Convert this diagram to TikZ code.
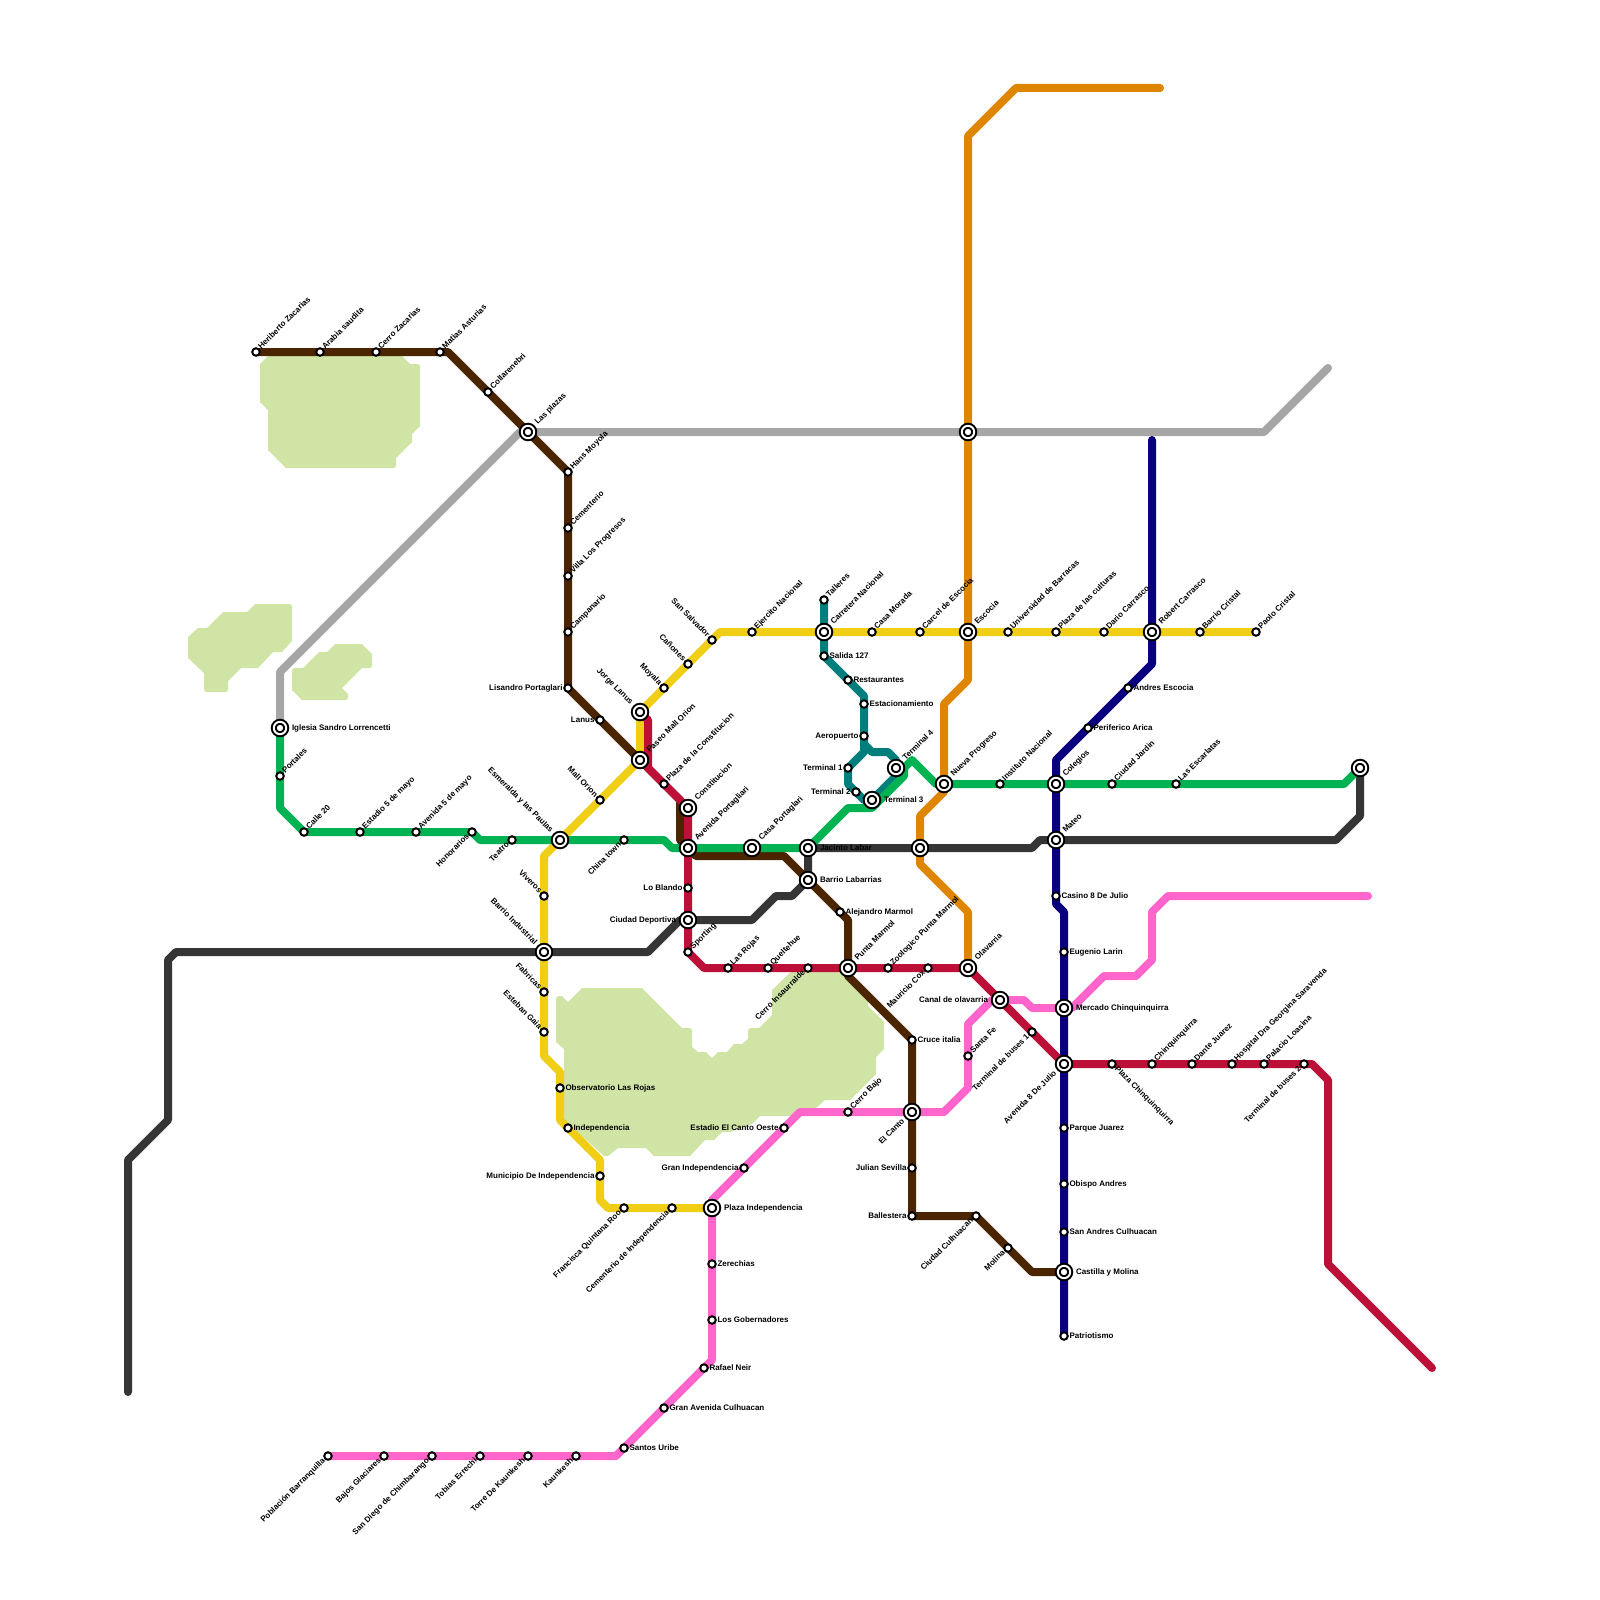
\documentclass[tikz,border=0pt]{standalone}
\usepackage{fontspec}
\setmainfont{Liberation Sans}
\usetikzlibrary{backgrounds}
\definecolor{ParkClr}{HTML}{D0E5A5}
\definecolor{BrownClr}{HTML}{4B2400}
\definecolor{GreyClr}{HTML}{A6A6A6}
\definecolor{OrangeClr}{HTML}{DF8600}
\definecolor{YellowClr}{HTML}{F0CE15}
\definecolor{GreenClr}{HTML}{00B251}
\definecolor{CrimsonClr}{HTML}{BD1038}
\definecolor{PinkClr}{HTML}{FF66CC}
\definecolor{NavyClr}{HTML}{0A007E}
\definecolor{TealClr}{HTML}{007E7E}
\definecolor{DarkClr}{HTML}{353535}
\tikzset{
  halt/.style={circle,draw=black,fill=white,line width=2pt,minimum size=7.5pt,inner sep=0pt,outer sep=0pt},
  hub/.style={circle,draw=black,fill=white,line width=2pt,double=white,double distance=2pt,minimum size=12.4pt,inner sep=0pt,outer sep=0pt},
  lbl/.style={font=\bfseries\fontsize{8}{8}\selectfont,text height=6pt,text depth=2pt,inner ysep=0pt,outer sep=0pt},
  lblNE/.style={lbl,rotate=45,anchor=west},
  lblSW/.style={lbl,rotate=45,anchor=east},
  lblNW/.style={lbl,rotate=-45,anchor=east},
  lblSE/.style={lbl,rotate=-45,anchor=west},
  lblE/.style={lbl,anchor=west},
  lblW/.style={lbl,anchor=east},
  metro/.style={line width=8pt,line cap=round,line join=round},
}
\begin{document}
\begin{tikzpicture}[x=1pt,y=-1pt]
\useasboundingbox (0,0) rectangle (1600,1600);

% plain stops
\foreach \x/\y/\n/\s/\t in {
  256/352/Heriberto/NE/Heriberto Zacarias,320/352/Arabia/NE/Arabia saudita,376/352/CerroZ/NE/Cerro Zacarias,
  440/352/Matias/NE/Matias Asturias,488/392/Collar/NE/Collarenebri,568/472/Hans/NE/Hans Moyola,
  568/528/Cementerio/NE/Cementerio,568/576/Villa/NE/Villa Los Progresos,568/632/Campanario/NE/Campanario,
  568/688/Lisandro/W/Lisandro Portaglari,600/720/Lanus/W/Lanus,840/912/Alejandro/E/Alejandro Marmol,
  912/1040/Cruce/E/Cruce italia,912/1168/Julian/W/Julian Sevilla,912/1216/Ballestera/W/Ballestera,
  976/1216/Culhuacan/SW/Ciudad Culhuacan,1008/1248/Molina/SW/Molina,
  280/776/Portales/NE/Portales,304/832/Calle/NE/Calle 20,360/832/Estadio/NE/Estadio 5 de mayo,
  416/832/Avenida/NE/Avenida 5 de mayo,472/832/Honorarios/SW/Honorarios,512/840/Teatro/SW/Teatro,
  624/840/China/SW/China town,1000/784/Instituto/NE/Instituto Nacional,1112/784/Jardin/NE/Ciudad Jardin,
  1176/784/Escarlatas/NE/Las Escarlatas,
  672/1208/CemInd/SW/Cementerio de Independencia,624/1208/Francisca/SW/Francisca Quintana Roo,
  600/1176/Municipio/W/Municipio De Independencia,568/1128/Independencia/E/Independencia,
  560/1088/Observatorio/E/Observatorio Las Rojas,544/1032/Esteban/NW/Esteban Gaia,544/992/Fabricas/NW/Fabricas,
  544/896/Viveros/NW/Viveros,600/800/MallOrion/NW/Mall Orion,664/688/Moyala/NW/Moyala,688/664/Canones/NW/Cañones,
  712/640/SanSalvador/NW/San Salvador,752/632/Ejercito/NE/Ejercito Nacional,872/632/CasaMorada/NE/Casa Morada,
  920/632/Carcel/NE/Carcel de Escocia,1008/632/Universidad/NE/Universidad de Barracas,
  1056/632/Culturas/NE/Plaza de las culturas,1104/632/Dario/NE/Dario Carrasco,1200/632/BarrioCristal/NE/Barrio Cristal,
  1256/632/Paolo/NE/Paolo Cristal,
  664/784/PlazaConst/NE/Plaza de la Constitucion,688/888/LoBlando/W/Lo Blando,688/952/Sporting/NE/Sporting,
  728/968/LasRojas/NE/Las Rojas,768/968/Queltehue/NE/Queltehue,808/968/Insaurralde/SW/Cerro Insaurralde,
  888/968/Zoologico/NE/Zoologico Punta Marmol,928/968/Mauricio/SW/Mauricio Cox,1032/1032/BusesA/SW/Terminal de buses 1,
  1112/1064/PlazaChin/SE/Plaza Chinquinquirra,1152/1064/Chinq/NE/Chinquinquirra,1192/1064/Dante/NE/Dante Juarez,
  1232/1064/Hospital/NE/Hospital Dra Georgina Saravenda,1264/1064/Palacio/NE/Palacio Loasina,
  1304/1064/BusesB/SW/Terminal de buses 2,
  328/1456/Poblacion/SW/Población Barranquilla,384/1456/Bajos/SW/Bajos Glaciares,432/1456/SanDiego/SW/San Diego de Chimbarango,
  480/1456/Tobias/SW/Tobias Errechi,528/1456/Torre/SW/Torre De Kaunkesh,576/1456/Kaunkesh/SW/Kaunkesh,
  624/1448/Santos/E/Santos Uribe,664/1408/GranAv/E/Gran Avenida Culhuacan,704/1368/Rafael/E/Rafael Neir,
  712/1320/Gobernadores/E/Los Gobernadores,712/1264/Zerechias/E/Zerechias,744/1168/GranInd/W/Gran Independencia,
  784/1128/EstCanto/W/Estadio El Canto Oeste,848/1112/CerroBajo/NE/Cerro Bajo,968/1056/SantaFe/NE/Santa Fe,
  1128/688/Andres/E/Andres Escocia,1088/728/Periferico/E/Periferico Arica,1056/896/Casino/E/Casino 8 De Julio,
  1064/952/Eugenio/E/Eugenio Larin,1064/1128/Parque/E/Parque Juarez,1064/1184/Obispo/E/Obispo Andres,
  1064/1232/SanAndres/E/San Andres Culhuacan,1064/1336/Patriotismo/E/Patriotismo,
  824/600/Talleres/NE/Talleres,824/656/Salida/E/Salida 127,848/680/Restaurantes/E/Restaurantes,
  864/704/Estacion/E/Estacionamiento,864/736/Aeropuerto/W/Aeropuerto,848/768/TermA/W/Terminal 1,856/792/TermB/W/Terminal 2}
  {\node[halt] (\n) at (\x,\y) {};
   \node[lbl\s,inner xsep=5.5pt] (\n-lbl) at (\n) {\t};}

% interchanges
\foreach \x/\y/\n/\s/\t in {
  528/432/LasPlazas/NE/Las plazas,640/760/Paseo/NE/Paseo Mall Orion,688/808/Constitucion/NE/Constitucion,
  688/848/AvPort/NE/Avenida Portagliari,808/880/Labarrias/E/Barrio Labarrias,848/968/PuntaMarmol/NE/Punta Marmol,
  912/1112/ElCanto/SW/El Canto,1064/1272/Castilla/E/Castilla y Molina,280/728/Iglesia/E/Iglesia Sandro Lorrencetti,
  560/840/Esmeralda/NW/Esmeralda y las Paulas,752/848/CasaPort/NE/Casa Portaglari,808/848/Jacinto/E/Jacinto Labar,
  872/800/TermC/E/Terminal 3,896/768/TermD/NE/Terminal 4,944/784/Nueva/NE/Nueva Progreso,1056/784/Colegios/NE/Colegios,
  1056/840/Mateo/NE/Mateo,688/920/Deportiva/W/Ciudad Deportiva,544/952/Industrial/NW/Barrio Industrial,
  712/1208/PlazaInd/E/Plaza Independencia,640/712/Jorge/NW/Jorge Lanus,824/632/Carretera/NE/Carretera Nacional,
  968/632/Escocia/NE/Escocia,1152/632/Robert/NE/Robert Carrasco,968/968/Olavarria/NE/Olavarria,
  1000/1000/Canal/W/Canal de olavarria,1064/1064/Julio/SW/Avenida 8 De Julio,1064/1008/Mercado/E/Mercado Chinquinquirra}
  {\node[hub] (\n) at (\x,\y) {};
   \node[lbl\s,inner xsep=12pt] (\n-lbl) at (\n) {\t};}

\node[hub] (GreyCross) at (968,432) {};
\node[hub] (DarkCross) at (920,848) {};
\node[hub] (LineEnd) at (1360,768) {};

% bends
\foreach \x/\y/\n in {
  448/352/Br1,680/800/Br2,680/840/Br3,696/856/Br4,784/856/Br5,848/920/Br6,848/976/Br7,912/1208/Br8,920/1216/Br9,1032/1272/Br10,
  280/672/Gr1,520/432/Gr2,1264/432/Gr3,1328/368/Gr4,
  1160/88/Or1,1016/88/Or2,968/136/Or3,968/680/Or4,944/704/Or5,944/792/Or9,920/816/Or6,920/864/Or7,968/912/Or8,
  608/1208/Ye1,600/1200/Ye2,600/1160/Ye3,560/1120/Ye4,560/1072/Ye5,544/1056/Ye6,544/856/Ye7,720/632/Ye8,
  280/808/Gn1,480/840/Gn2,664/840/Gn3,672/848/Gn4,848/808/Gn5,872/808/Gn6,904/776/Gn7,904/768/Gn8,912/760/Gn9,936/784/Gn10,1344/784/Gn11,
  1360/816/Dk1,1336/840/Dk2,1040/840/Dk3,1032/848/Dk4,792/896/Dk5,776/896/Dk6,752/920/Dk7,680/920/Dk8,648/952/Dk9,
  176/952/Dk10,168/960/Dk11,168/1120/Dk12,128/1160/Dk13,128/1392/Dk14,
  648/720/Cr1,648/768/Cr2,704/968/Cr3,1312/1064/Cr4,1328/1080/Cr5,1328/1264/Cr6,1432/1368/Cr7,
  616/1456/Pk1,712/1360/Pk2,712/1200/Pk17,800/1112/Pk3,944/1112/Pk4,968/1088/Pk5,968/1024/Pk6,992/1000/Pk7,1024/1000/Pk8,1032/1008/Pk9,
  1072/1008/Pk10,1104/976/Pk11,1136/976/Pk12,1152/960/Pk13,1152/912/Pk14,1168/896/Pk15,1368/896/Pk16,
  1152/440/Nv1,1152/664/Nv2,1056/760/Nv3,1056/904/Nv4,1064/912/Nv5,
  864/696/Te1,864/744/Te2,872/752/Te3,888/752/Te4,896/760/Te5,896/776/Te6,864/800/Te7,848/784/Te8,864/752/Te9}
  {\coordinate (\n) at (\x,\y);}

\begin{scope}[on background layer]
\fill[ParkClr] (260,364) -- (268,356) -- (402,356) -- (410,364) -- (418,364) -- (420,366) -- (420,426) -- (412,434) -- (412,442) -- (396,458) -- (396,466) -- (394,468) -- (286,468) -- (268,450) -- (268,410) -- (260,402) -- cycle;
\fill[ParkClr] (188,637) -- (198,628) -- (207,628) -- (223,612) -- (247,612) -- (255,604) -- (290,604) -- (292,606) -- (292,641) -- (282,652) -- (273,652) -- (258,668) -- (241,668) -- (228,681) -- (228,690) -- (226,692) -- (206,692) -- (204,690) -- (204,673) -- (188,658) -- cycle;
\fill[ParkClr] (292,670) -- (294,668) -- (303,668) -- (319,652) -- (327,652) -- (335,644) -- (362,644) -- (372,654) -- (372,666) -- (370,668) -- (362,668) -- (342,688) -- (348,694) -- (348,698) -- (346,700) -- (302,700) -- (292,690) -- cycle;
\fill[ParkClr] (556,998) -- (558,996) -- (562,996) -- (568,1002) -- (582,988) -- (642,988) -- (682,1028) -- (690,1028) -- (692,1030) -- (692,1047) -- (698,1052) -- (706,1052) -- (712,1058) -- (718,1052) -- (727,1052) -- (734,1044) -- (742,1044) -- (748,1039) -- (748,1030) -- (750,1028) -- (759,1028) -- (772,1015) -- (772,990) -- (793,970) -- (848,970) -- (868,996) -- (868,1006) -- (884,1022) -- (884,1049) -- (876,1057) -- (876,1074) -- (850,1100) -- (825,1100) -- (816,1108) -- (800,1108) -- (790,1116) -- (760,1116) -- (752,1124) -- (730,1132) -- (722,1132) -- (714,1140) -- (705,1140) -- (690,1156) -- (654,1156) -- (646,1148) -- (618,1148) -- (608,1156) -- (604,1156) -- (564,1120) -- (564,1049) -- (556,1042) -- cycle;

\draw[metro,GreyClr] (Iglesia.center) -- (Gr1) -- (Gr2) -- (LasPlazas.center) -- (GreyCross.center) -- (Gr3) -- (Gr4);
\draw[metro,OrangeClr] (Or1) -- (Or2) -- (Or3) -- (GreyCross.center) -- (Escocia.center) -- (Or4) -- (Or5) -- (Nueva.center) -- (Or9) -- (Or6) -- (DarkCross.center) -- (Or7) -- (Or8) -- (Olavarria.center);
\draw[metro,YellowClr] (PlazaInd.center) -- (CemInd.center) -- (Francisca.center) -- (Ye1) -- (Ye2) -- (Municipio.center) -- (Ye3) -- (Independencia.center) -- (Ye4) -- (Observatorio.center) -- (Ye5) -- (Ye6) -- (Esteban.center) -- (Fabricas.center) -- (Industrial.center) -- (Viveros.center) -- (Ye7) -- (Esmeralda.center) -- (MallOrion.center) -- (Paseo.center) -- (Jorge.center) -- (Moyala.center) -- (Canones.center) -- (SanSalvador.center) -- (Ye8) -- (Ejercito.center) -- (Carretera.center) -- (CasaMorada.center) -- (Carcel.center) -- (Escocia.center) -- (Universidad.center) -- (Culturas.center) -- (Dario.center) -- (Robert.center) -- (BarrioCristal.center) -- (Paolo.center);
\draw[metro,TealClr] (Talleres.center) -- (Carretera.center) -- (Salida.center) -- (Restaurantes.center) -- (Te1) -- (Estacion.center) -- (Aeropuerto.center) -- (Te2) -- (Te3) -- (Te4) -- (Te5) -- (TermD.center) -- (Te6) -- (TermC.center) -- (Te7) -- (TermB.center) -- (Te8) -- (TermA.center) -- (Te9) -- (Te2);
\draw[metro,DarkClr] (LineEnd.center) -- (Dk1) -- (Dk2) -- (Mateo.center) -- (Dk3) -- (Dk4) -- (DarkCross.center) -- (Jacinto.center) -- (Labarrias.center) -- (Dk5) -- (Dk6) -- (Dk7) -- (Deportiva.center) -- (Dk8) -- (Dk9) -- (Industrial.center) -- (Dk10) -- (Dk11) -- (Dk12) -- (Dk13) -- (Dk14);
\draw[metro,BrownClr] (Heriberto.center) -- (Arabia.center) -- (CerroZ.center) -- (Matias.center) -- (Br1) -- (Collar.center) -- (LasPlazas.center) -- (Hans.center) -- (Cementerio.center) -- (Villa.center) -- (Campanario.center) -- (Lisandro.center) -- (Lanus.center) -- (Paseo.center) -- (Br2) -- (Br3) -- (AvPort.center) -- (Br4) -- (Br5) -- (Labarrias.center) -- (Alejandro.center) -- (Br6) -- (PuntaMarmol.center) -- (Br7) -- (Cruce.center) -- (ElCanto.center) -- (Julian.center) -- (Br8) -- (Ballestera.center) -- (Br9) -- (Culhuacan.center) -- (Molina.center) -- (Br10) -- (Castilla.center);
\draw[metro,CrimsonClr] (Jorge.center) -- (Cr1) -- (Cr2) -- (PlazaConst.center) -- (Constitucion.center) -- (AvPort.center) -- (LoBlando.center) -- (Deportiva.center) -- (Sporting.center) -- (Cr3) -- (LasRojas.center) -- (Queltehue.center) -- (Insaurralde.center) -- (PuntaMarmol.center) -- (Zoologico.center) -- (Mauricio.center) -- (Olavarria.center) -- (Canal.center) -- (BusesA.center) -- (Julio.center) -- (PlazaChin.center) -- (Chinq.center) -- (Dante.center) -- (Hospital.center) -- (Palacio.center) -- (BusesB.center) -- (Cr4) -- (Cr5) -- (Cr6) -- (Cr7);
\draw[metro,PinkClr] (Poblacion.center) -- (Bajos.center) -- (SanDiego.center) -- (Tobias.center) -- (Torre.center) -- (Kaunkesh.center) -- (Pk1) -- (Santos.center) -- (GranAv.center) -- (Rafael.center) -- (Pk2) -- (Gobernadores.center) -- (Zerechias.center) -- (PlazaInd.center) -- (Pk17) -- (GranInd.center) -- (EstCanto.center) -- (Pk3) -- (CerroBajo.center) -- (ElCanto.center) -- (Pk4) -- (Pk5) -- (SantaFe.center) -- (Pk6) -- (Pk7) -- (Canal.center) -- (Pk8) -- (Pk9) -- (Mercado.center) -- (Pk10) -- (Pk11) -- (Pk12) -- (Pk13) -- (Pk14) -- (Pk15) -- (Pk16);
\draw[metro,NavyClr] (Nv1) -- (Robert.center) -- (Nv2) -- (Andres.center) -- (Periferico.center) -- (Nv3) -- (Colegios.center) -- (Mateo.center) -- (Casino.center) -- (Nv4) -- (Nv5) -- (Eugenio.center) -- (Mercado.center) -- (Julio.center) -- (Parque.center) -- (Obispo.center) -- (SanAndres.center) -- (Castilla.center) -- (Patriotismo.center);
\draw[metro,GreenClr] (Iglesia.center) -- (Portales.center) -- (Gn1) -- (Calle.center) -- (Estadio.center) -- (Avenida.center) -- (Honorarios.center) -- (Gn2) -- (Teatro.center) -- (Esmeralda.center) -- (China.center) -- (Gn3) -- (Gn4) -- (AvPort.center) -- (CasaPort.center) -- (Jacinto.center) -- (Gn5) -- (Gn6) -- (Gn7) -- (Gn8) -- (Gn9) -- (Gn10) -- (Nueva.center) -- (Instituto.center) -- (Colegios.center) -- (Jardin.center) -- (Escarlatas.center) -- (Gn11) -- (LineEnd.center);
\end{scope}

\end{tikzpicture}
\end{document}
